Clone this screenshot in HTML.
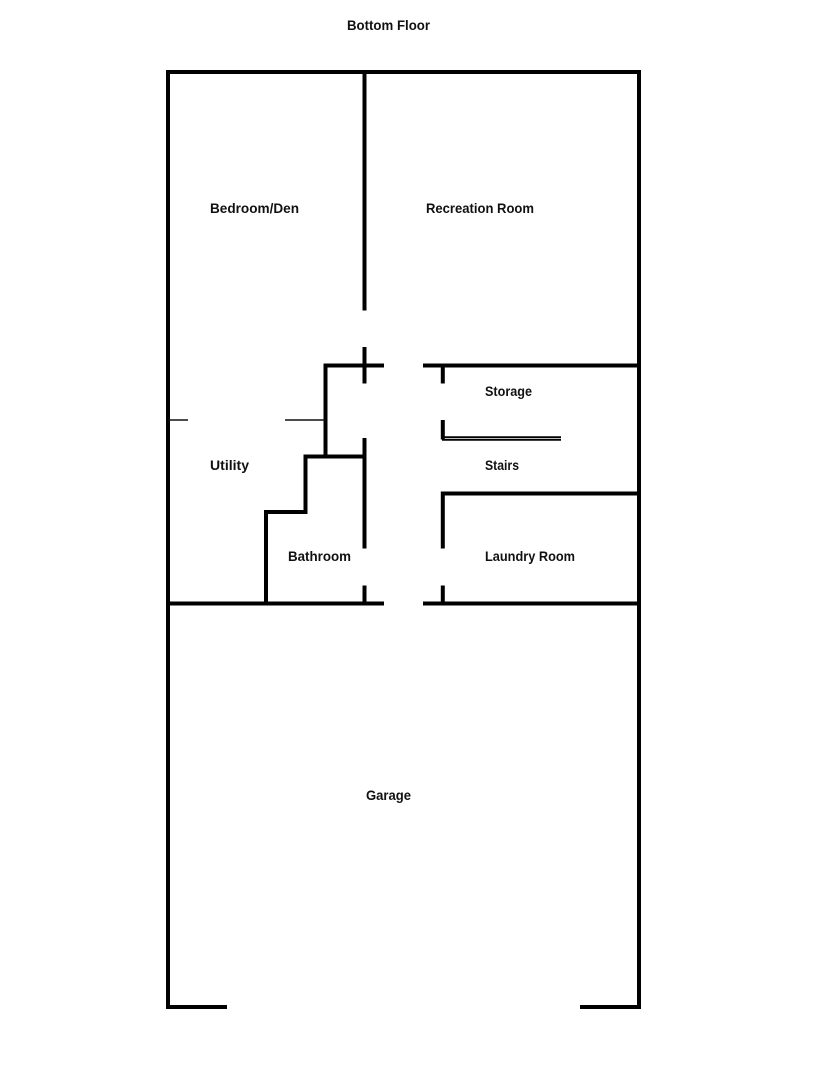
<!DOCTYPE html>
<html lang="en">
<head>
<meta charset="utf-8">
<title>Bottom Floor</title>
<style>
html,body{margin:0;padding:0;background:#fff;}
svg{display:block;}
text{font-family:"Liberation Sans",sans-serif;font-weight:bold;font-size:14px;fill:#111;}
.w{stroke:#000;stroke-width:4;fill:none;stroke-linecap:butt;stroke-linejoin:miter;}
.t{stroke:#111;stroke-width:1.5;fill:none;}
</style>
</head>
<body>
<svg width="835" height="1080" viewBox="0 0 835 1080" xmlns="http://www.w3.org/2000/svg">
<rect width="835" height="1080" fill="#fff"/>
<!-- outer walls -->
<path class="w" d="M227 1007H168V72H639V1007H580"/>
<!-- bedroom / rec divider -->
<path class="w" d="M364.500 72V310.500"/>
<path class="w" d="M364.500 347V383.500"/>
<!-- upper corridor wall -->
<path class="w" d="M384 365.500H325.500V457"/>
<path class="w" d="M423 365.500H639"/>
<!-- bathroom walls -->
<path class="w" d="M364.500 456.500H305.500V512H266V603"/>
<path class="w" d="M364.500 438V548.500"/>
<path class="w" d="M364.500 585.500V603"/>
<!-- floor line -->
<path class="w" d="M168 603.500H384"/>
<path class="w" d="M423 603.500H639"/>
<!-- right side -->
<path class="w" d="M442.800 365V383.500"/>
<path class="w" d="M442.800 420V439.500"/>
<path class="w" d="M442.800 548.500V493.500H639"/>
<path class="w" d="M442.800 585.500V603"/>
<!-- thin lines -->
<path class="t" d="M168 420H188"/>
<path class="t" d="M285 420H325"/>
<path d="M442 437.200H561" stroke="#000" stroke-width="1.800" fill="none"/>
<path d="M442 439.800H561" stroke="#000" stroke-width="1.800" fill="none"/>
<!-- labels -->
<text x="347" y="30" textLength="83" lengthAdjust="spacingAndGlyphs">Bottom Floor</text>
<text x="210" y="213" textLength="89" lengthAdjust="spacingAndGlyphs">Bedroom/Den</text>
<text x="426" y="213" textLength="108" lengthAdjust="spacingAndGlyphs">Recreation Room</text>
<text x="485" y="396" textLength="47" lengthAdjust="spacingAndGlyphs">Storage</text>
<text x="485" y="470" textLength="34" lengthAdjust="spacingAndGlyphs">Stairs</text>
<text x="210" y="470" textLength="39" lengthAdjust="spacingAndGlyphs">Utility</text>
<text x="288" y="561" textLength="63" lengthAdjust="spacingAndGlyphs">Bathroom</text>
<text x="485" y="561" textLength="90" lengthAdjust="spacingAndGlyphs">Laundry Room</text>
<text x="366" y="800" textLength="45" lengthAdjust="spacingAndGlyphs">Garage</text>
</svg>
</body>
</html>
